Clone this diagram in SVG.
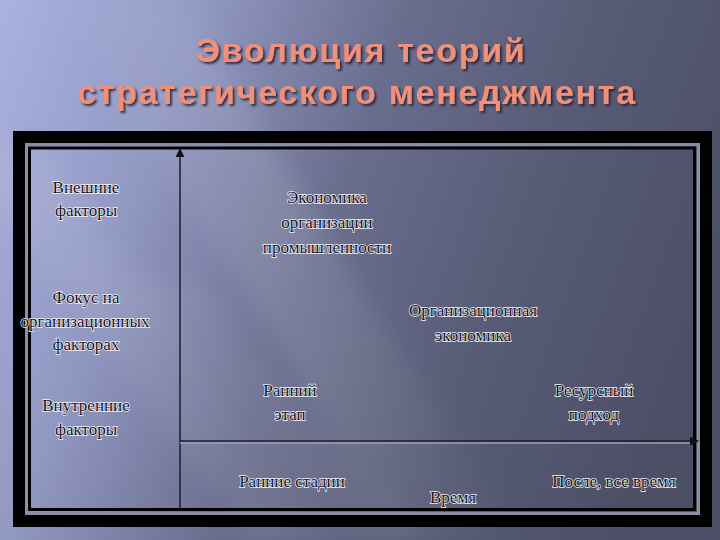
<svg xmlns="http://www.w3.org/2000/svg" width="720" height="540" viewBox="0 0 720 540">
  <defs>
    <linearGradient id="bg" x1="0" y1="0" x2="720" y2="260" gradientUnits="userSpaceOnUse">
      <stop offset="0" stop-color="#abb2de"/>
      <stop offset="0.25" stop-color="#9198c2"/>
      <stop offset="0.5" stop-color="#6a6e8e"/>
      <stop offset="0.75" stop-color="#575b75"/>
      <stop offset="1" stop-color="#4c4f66"/>
    </linearGradient>
    <linearGradient id="streak" x1="0" y1="0" x2="1" y2="0">
      <stop offset="0" stop-color="#ffffff" stop-opacity="0"/>
      <stop offset="0.5" stop-color="#ffffff" stop-opacity="0.12"/>
      <stop offset="1" stop-color="#ffffff" stop-opacity="0"/>
    </linearGradient>
    <filter id="blur" x="-20%" y="-20%" width="140%" height="140%">
      <feGaussianBlur stdDeviation="12"/>
    </filter>
    <filter id="shadow" x="-10%" y="-20%" width="120%" height="150%">
      <feDropShadow dx="2" dy="2" stdDeviation="1" flood-color="#2a2434" flood-opacity="0.9"/>
    </filter>
    <marker id="arrowBig" viewBox="0 0 10 10" refX="9" refY="5" markerWidth="9" markerHeight="9" orient="auto" markerUnits="userSpaceOnUse">
      <path d="M0,0 L10,5 L0,10 z" fill="#111"/>
    </marker>
  </defs>
  <style>
    .title { font-family: "Liberation Sans", Arial, sans-serif; font-weight: bold; font-size: 34px; letter-spacing: 1.7px; fill: #f0907a; text-anchor: middle; }
    .lbl { font-family: "Liberation Serif", "Times New Roman", serif; font-size: 17px; fill: #141420; stroke: #f4f4ff; stroke-width: 1.3px; paint-order: stroke; text-anchor: middle; }
    .axis { stroke: #1c1c28; stroke-width: 1.5; fill: none; }
  </style>

  <!-- background -->
  <rect x="0" y="0" width="720" height="540" fill="url(#bg)"/>
  <g filter="url(#blur)">
    <polygon points="60,0 180,0 520,540 400,540" fill="url(#streak)"/>
    <polygon points="-40,150 40,150 330,540 250,540" fill="#ffffff" opacity="0.07"/>
    <polygon points="120,280 200,280 420,540 340,540" fill="#ffffff" opacity="0.06"/>
  </g>

  <!-- title -->
  <g id="title" filter="url(#shadow)">
    <text class="title" x="361" y="62">Эволюция теорий</text>
    <text class="title" x="357" y="104">стратегического менеджмента</text>
  </g>

  <!-- frame -->
  <g id="frame" fill="none">
    <rect x="19" y="137" width="687" height="384" stroke="#000" stroke-width="12"/>
    <rect x="26.5" y="144.5" width="672" height="369" stroke="#8a8ea6" stroke-width="3"/>
    <rect x="29.5" y="148" width="665" height="361.5" stroke="#000" stroke-width="3"/>
  </g>

  <!-- connectors (axes) -->
  <g id="connectors">
    <line class="axis" x1="180" y1="508" x2="180" y2="149" marker-end="url(#arrowBig)"/>
    <line x1="180" y1="443" x2="692" y2="443" stroke="#9a9eb8" stroke-width="1.5"/>
    <line class="axis" x1="180" y1="441" x2="698" y2="441" marker-end="url(#arrowBig)"/>
  </g>

  <!-- y-axis labels -->
  <g id="external">
    <text class="lbl" x="86" y="193">Внешние</text>
    <text class="lbl" x="86" y="216">факторы</text>
  </g>
  <g id="focus">
    <text class="lbl" x="86" y="303">Фокус на</text>
    <text class="lbl" x="85" y="327">организационных</text>
    <text class="lbl" x="86" y="350">факторах</text>
  </g>
  <g id="internal">
    <text class="lbl" x="86" y="411">Внутренние</text>
    <text class="lbl" x="86" y="435">факторы</text>
  </g>

  <!-- stages -->
  <g id="industry">
    <text class="lbl" x="327" y="203">Экономика</text>
    <text class="lbl" x="327" y="228">организации</text>
    <text class="lbl" x="327" y="253">промышленности</text>
  </g>
  <g id="orgecon">
    <text class="lbl" x="473" y="316">Организационная</text>
    <text class="lbl" x="473" y="341">экономика</text>
  </g>
  <g id="early">
    <text class="lbl" x="290" y="396">Ранний</text>
    <text class="lbl" x="290" y="420">этап</text>
  </g>
  <g id="resource">
    <text class="lbl" x="594" y="396">Ресурсный</text>
    <text class="lbl" x="594" y="420">подход</text>
  </g>

  <!-- x-axis labels -->
  <g id="earlystages">
    <text class="lbl" x="292" y="487">Ранние стадии</text>
  </g>
  <g id="time">
    <text class="lbl" x="453" y="503">Время</text>
  </g>
  <g id="later">
    <text class="lbl" x="614" y="487">После, все время</text>
  </g>
</svg>
